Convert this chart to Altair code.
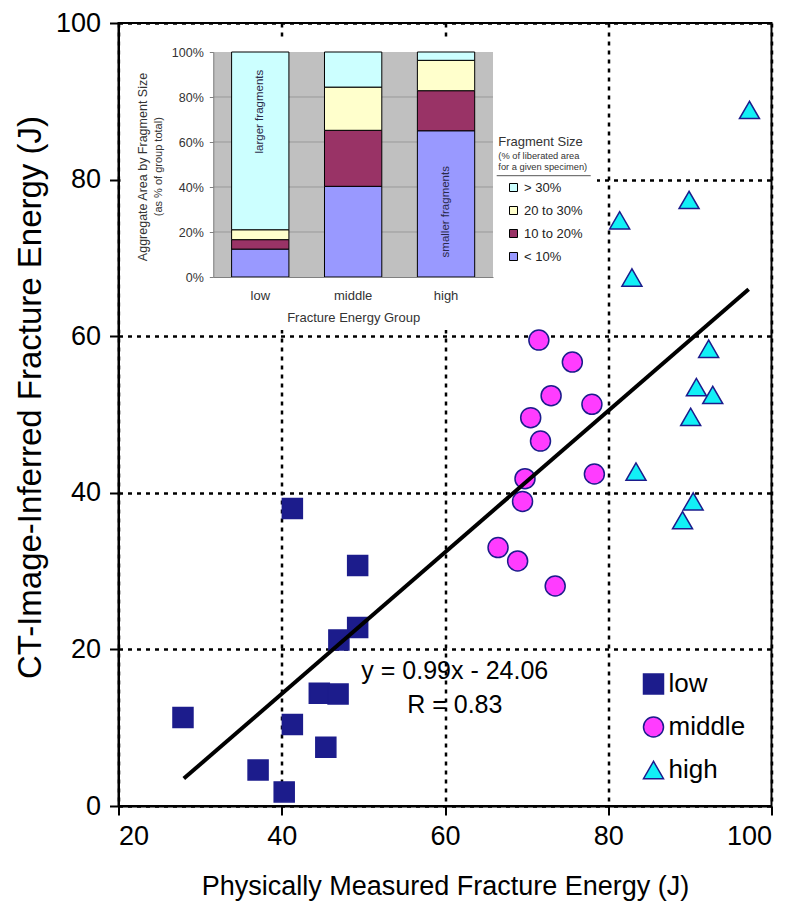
import altair as alt
import pandas as pd

# ---------------- main scatter data ----------------
low_x = [41.3, 49.3, 49.3, 47.0, 44.6, 46.9, 27.9, 41.3, 45.4, 37.1, 40.3]
low_y = [38.0, 30.7, 22.8, 21.2, 14.4, 14.3, 11.3, 10.4, 7.5, 4.6, 1.8]
mid_x = [71.5, 75.6, 73.0, 78.0, 70.5, 71.7, 69.8, 78.3, 69.5, 66.5, 68.9, 73.5]
mid_y = [59.5, 56.7, 52.4, 51.3, 49.6, 46.6, 41.8, 42.4, 38.9, 33.0, 31.3, 28.1]
high_x = [97.3, 89.9, 81.4, 82.9, 92.3, 90.8, 92.8, 90.1, 83.4, 90.4, 89.1]
high_y = [88.9, 77.4, 74.8, 67.5, 58.4, 53.5, 52.5, 49.7, 42.7, 38.9, 36.5]
group_names = ["low", "middle", "high"]

fit_x = [28.0, 97.2]
fit_y = [3.5, 66.0]

eq_text = ["y = 0.99x - 24.06", "R = 0.83"]
eq_x = [61.2, 61.2]
eq_y = [17.2, 12.9]

# ---------------- inset data ----------------
size_names = ["< 10%", "10 to 20%", "20 to 30%", "> 30%"]
share_low = [12.4, 4.2, 4.4, 79.0]
share_mid = [40.3, 24.9, 19.2, 15.6]
share_high = [65.0, 17.8, 13.5, 3.7]
size_colors = ["#9999FF", "#993366", "#FFFFCC", "#CCFFFF"]
inset_grid = [20, 40, 60, 80]
inset_ticks = [0, 20, 40, 60, 80, 100]
note_text = ["larger fragments", "smaller fragments"]
note_group = ["low", "high"]
note_pos = [73.5, 29.0]

NAVY = "#1c1c8c"
FONT = "Liberation Sans"

pts = pd.DataFrame({
    "x": low_x + mid_x + high_x,
    "y": low_y + mid_y + high_y,
    "g": ["low"] * len(low_x) + ["middle"] * len(mid_x) + ["high"] * len(high_x),
})
fit = pd.DataFrame({"x": fit_x, "y": fit_y})
eq = pd.DataFrame({"t": eq_text, "x": eq_x, "y": eq_y})

rows = []
for grp, shares in zip(group_names, [share_low, share_mid, share_high]):
    for k, (s, v) in enumerate(zip(size_names, shares)):
        rows.append({"grp": grp, "size": s, "share": v, "rank": k})
bars_df = pd.DataFrame(rows)
notes = pd.DataFrame({"t": note_text, "grp": note_group, "pos": note_pos})

# ---------------- main layer ----------------
xs = alt.Scale(domain=[20, 100], nice=False, zero=False)
ys = alt.Scale(domain=[0, 100], nice=False)
x_axis = alt.Axis(
    orient="bottom", values=[20, 40, 60, 80, 100], tickSize=9, tickWidth=2,
    tickColor="black", domainColor="black", domainWidth=2,
    labelFont=FONT, labelFontSize=27, labelColor="black", labelPadding=8,
    grid=True, gridColor="black", gridDash=[4, 5], gridWidth=2.5,
    title="Physically Measured Fracture Energy (J)", titleFont=FONT,
    titleFontSize=27, titleFontWeight="normal", titleColor="black",
    titleY=88, titleBaseline="alphabetic",
)
y_axis = alt.Axis(
    orient="left", values=[0, 20, 40, 60, 80, 100], tickSize=9, tickWidth=2,
    tickColor="black", domainColor="black", domainWidth=2,
    labelFont=FONT, labelFontSize=27, labelColor="black", labelPadding=9,
    grid=True, gridColor="black", gridDash=[4, 5], gridWidth=2.5,
    title="CT-Image-Inferred Fracture Energy (J)", titleFont=FONT,
    titleFontSize=33, titleFontWeight="normal", titleColor="black",
    titleX=-78, titleY=374, titleAngle=270, titleBaseline="alphabetic",
    titleAlign="center",
)
main_legend = alt.Legend(
    orient="none", legendX=522, legendY=648, title=None, symbolSize=400,
    symbolStrokeWidth=1.5, labelFont=FONT,
    labelFontSize=26, labelColor="black", rowPadding=17, labelOffset=2,
    padding=0,
)

points = alt.Chart(pts).mark_point(filled=True, size=400, strokeWidth=1.5, opacity=1).encode(
    x=alt.X("x:Q", scale=xs, axis=x_axis),
    y=alt.Y("y:Q", scale=ys, axis=y_axis),
    fill=alt.Fill("g:N", scale=alt.Scale(domain=group_names, range=[NAVY, "#FF3CFF", "#12F0F6"]), legend=main_legend),
    stroke=alt.Stroke("g:N", scale=alt.Scale(domain=group_names, range=[NAVY, NAVY, NAVY]), legend=main_legend),
    shape=alt.Shape("g:N", scale=alt.Scale(domain=group_names, range=["square", "circle", "triangle-up"]), legend=main_legend),
)
line = alt.Chart(fit).mark_line(color="black", strokeWidth=4).encode(
    x=alt.X("x:Q", scale=xs, axis=x_axis),
    y=alt.Y("y:Q", scale=ys, axis=y_axis),
)
eq_marks = alt.Chart(eq).mark_text(font=FONT, fontSize=25, color="black", align="center", baseline="middle").encode(
    x=alt.X("x:Q", scale=xs, axis=x_axis),
    y=alt.Y("y:Q", scale=ys, axis=y_axis),
    text="t:N",
)
main = alt.layer(points, line, eq_marks)

# ---------------- inset layer ----------------
ix = alt.Scale(domain=group_names, range=[94.8, 374.5], paddingInner=0.383, paddingOuter=0.197)
iy = alt.Scale(domain=[0, 100], range=[254, 29], nice=False)
ix_axis = alt.Axis(
    orient="bottom", offset=-529, labelFont=FONT, labelFontSize=13, labelColor="#333333",
    labelAngle=0, ticks=False, tickSize=0, labelPadding=12, domainColor="#808080",
    domainWidth=1, title="Fracture Energy Group", titleFont=FONT, titleFontSize=13,
    titleFontWeight="normal", titleColor="#333333", titleY=44, titleBaseline="alphabetic",
    zindex=1, grid=False,
)
iy_axis = alt.Axis(
    orient="left", offset=-94.8, values=inset_ticks, labelExpr="datum.value + '%'",
    labelFont=FONT, labelFontSize=12.5, labelColor="#333333", tickSize=4,
    tickColor="#808080", domainColor="#808080", domainWidth=1, labelPadding=6,
    grid=False, title=None, zindex=1,
)
inset_legend = alt.Legend(
    orient="none", legendX=388.5, legendY=158, title=None, symbolType="square",
    symbolSize=64, symbolStrokeColor="black", symbolStrokeWidth=1, labelFont=FONT,
    labelFontSize=13, labelColor="#222222", rowPadding=9, labelOffset=4, padding=0,
)

one = pd.DataFrame({"k": [0]})
white_bg = alt.Chart(one).mark_rect(fill="white").encode(
    x=alt.value(2), x2=alt.value(478.5), y=alt.value(17), y2=alt.value(307)
)
grey_bg = alt.Chart(one).mark_rect(fill="#C0C0C0").encode(
    x=alt.value(94.8), x2=alt.value(374.5), y=alt.value(29), y2=alt.value(254)
)
igrid = alt.Chart(pd.DataFrame({"g": inset_grid})).mark_rule(color="#999999", strokeWidth=1).encode(
    y=alt.Y("g:Q", scale=iy, axis=iy_axis), x=alt.value(94.8), x2=alt.value(374.5)
)
bars = alt.Chart(bars_df).mark_bar(stroke="black", strokeWidth=1).encode(
    x=alt.X("grp:N", scale=ix, axis=ix_axis, sort=group_names),
    y=alt.Y("share:Q", scale=iy, axis=iy_axis, stack="zero"),
    fill=alt.Fill("size:N", scale=alt.Scale(domain=size_names[::-1], range=size_colors[::-1]), legend=inset_legend),
    order=alt.Order("rank:Q", sort="ascending"),
)
note_marks = alt.Chart(notes).mark_text(font=FONT, fontSize=11.5, color="#2a2a4a", angle=270, align="center", baseline="middle").encode(
    x=alt.X("grp:N", scale=ix, axis=ix_axis, sort=group_names),
    y=alt.Y("pos:Q", scale=iy, axis=iy_axis),
    text="t:N",
)

def txt(s, x, y, size, angle=0, align="left"):
    return alt.Chart(pd.DataFrame({"t": [s]})).mark_text(
        font=FONT, fontSize=size, color="#333333", angle=angle, align=align, baseline="middle"
    ).encode(x=alt.value(x), y=alt.value(y), text="t:N")

inset_titles = [
    txt("Aggregate Area by Fragment Size", 24.5, 144, 12.5, 270, "center"),
    txt("(as % of group total)", 40.5, 143.7, 11, 270, "center"),
    txt("Fragment Size", 379.8, 119.3, 13),
    txt("(% of liberated area", 379.8, 133, 9.3),
    txt("for a given specimen)", 379.8, 143.7, 9.3),
]
underline = alt.Chart(one).mark_rule(color="#555555", strokeWidth=1).encode(
    x=alt.value(378.2), x2=alt.value(472.2), y=alt.value(152.7)
)

inset = alt.layer(white_bg, grey_bg, igrid, bars, note_marks, *inset_titles, underline)

chart = alt.layer(inset, main).resolve_scale(
    x="independent", y="independent", fill="independent", shape="independent",
    stroke="independent",
).properties(
    width=653, height=783,
    autosize=alt.AutoSizeParams(type="none"),
    padding={"left": 110.5, "top": 15, "right": 20, "bottom": 100},
).configure_view(stroke="black", strokeWidth=2)

chart.save("out.html", embed_options={"renderer": "svg", "actions": False})
